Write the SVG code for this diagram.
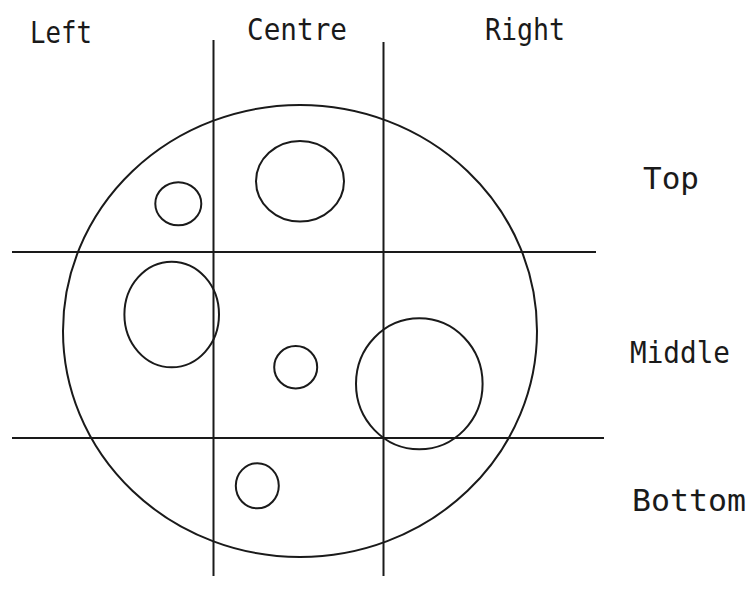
<svg xmlns="http://www.w3.org/2000/svg" width="753" height="603" viewBox="0 0 753 603">
<style>
.s{fill:none;stroke:#1a1a1a;stroke-width:2}
.t{font-family:"DejaVu Sans Mono","Liberation Mono",monospace;font-size:31px;fill:#1a1a1a}
</style>
<rect width="753" height="603" fill="#fff"/>
<g id="outline">
<ellipse class="s" cx="300" cy="331" rx="237" ry="226"/>
</g>
<g id="grid">
<line class="s" x1="213.5" y1="40" x2="213.5" y2="576"/>
<line class="s" x1="383.5" y1="42" x2="383.5" y2="576"/>
<line class="s" x1="12" y1="252" x2="596" y2="252"/>
<line class="s" x1="12" y1="438" x2="604" y2="438"/>
</g>
<g id="spots">
<ellipse class="s" cx="178.3" cy="203.7" rx="23" ry="21.5"/>
<ellipse class="s" cx="300" cy="181.3" rx="44" ry="40.3"/>
<ellipse class="s" cx="171.7" cy="314.5" rx="47.3" ry="52.8"/>
<ellipse class="s" cx="295.7" cy="367.2" rx="21.5" ry="21.2"/>
<ellipse class="s" cx="419.3" cy="383.8" rx="63.3" ry="65.5"/>
<ellipse class="s" cx="257.3" cy="485.8" rx="21.5" ry="22.5"/>
</g>
<g id="labels">
<text class="t" x="30" y="43" textLength="62" lengthAdjust="spacingAndGlyphs">Left</text>
<text class="t" x="247" y="40" textLength="100" lengthAdjust="spacingAndGlyphs">Centre</text>
<text class="t" x="485" y="40" textLength="80" lengthAdjust="spacingAndGlyphs">Right</text>
<text class="t" x="643" y="189" textLength="56" lengthAdjust="spacingAndGlyphs">Top</text>
<text class="t" x="630" y="363" textLength="100" lengthAdjust="spacingAndGlyphs">Middle</text>
<text class="t" x="632" y="511" textLength="114" lengthAdjust="spacingAndGlyphs">Bottom</text>
</g>
</svg>
